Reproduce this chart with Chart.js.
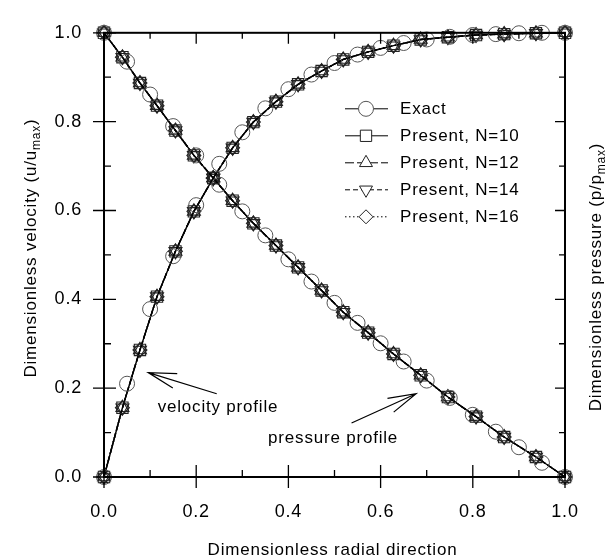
<!DOCTYPE html>
<html>
<head>
<meta charset="utf-8">
<script src="https://cdn.jsdelivr.net/npm/chart.js@4.4.0/dist/chart.umd.min.js"></script>
<style>
html,body{margin:0;padding:0;background:#fff;}
#c{display:block;}
</style>
</head>
<body>
<canvas id="c" width="608" height="560"></canvas>
<script>
// 速度・圧力分布（厳密解 vs 本手法）— 図から読み取った値

const xExact=[0,0.05,0.10,0.15,0.20,0.25,0.30,0.35,0.40,0.45,0.50,0.55,0.60,0.65,0.70,0.75,0.80,0.85,0.90,0.95,1.00];
const uExact=[0,0.21,0.378,0.497,0.612,0.705,0.776,0.83,0.873,0.906,0.932,0.951,0.966,0.977,0.985,0.991,0.995,0.997,0.999,1.0,1.0];
const pExact=[1.0,0.935,0.861,0.79,0.724,0.658,0.598,0.544,0.49,0.44,0.392,0.347,0.301,0.26,0.217,0.178,0.14,0.102,0.067,0.032,0.0];

const xPresent=[0,0.04,0.078,0.115,0.155,0.195,0.237,0.279,0.324,0.373,0.421,0.472,0.519,0.573,0.628,0.687,0.746,0.807,0.868,0.937,1.0];
const uPresent=[0,0.156,0.286,0.406,0.508,0.598,0.673,0.741,0.799,0.845,0.884,0.914,0.94,0.957,0.971,0.985,0.99,0.995,0.997,0.999,1.0];
const pPresent=[1.0,0.945,0.887,0.836,0.78,0.724,0.673,0.622,0.571,0.521,0.472,0.42,0.371,0.325,0.277,0.229,0.18,0.136,0.09,0.045,0.0];

const majorTicks=[0,0.2,0.4,0.6,0.8,1.0];
const minorTicks=[0.1,0.3,0.5,0.7,0.9];

const seriesLabels=['Exact','Present, N=10','Present, N=12','Present, N=14','Present, N=16'];
const seriesMarkers=['circle','rect','triangle','triangle','rectRot'];
const seriesRotation=[0,0,0,180,0];
const seriesRadius=[7.5,8,7.5,7.5,7];
const seriesDash=[[],[],[9,3],[5,3],[1.5,2.5]];

const FONT='"Liberation Sans", Arial, Helvetica, sans-serif';

// ── データセット ──
function pts(xs,ys){ return xs.map((x,i)=>({x:x,y:ys[i]})); }

const datasets=[];
seriesLabels.forEach((label,i)=>{
  const isExact=i===0;
  const curves=isExact?[uExact,pExact]:[uPresent,pPresent];
  const xs=isExact?xExact:xPresent;
  curves.forEach(ys=>{
    datasets.push({
      label:label,
      data:pts(xs,ys),
      showLine:!isExact,
      borderColor:'#000',
      borderWidth:1.4,
      borderDash:seriesDash[i],
      pointStyle:seriesMarkers[i],
      rotation:seriesRotation[i],
      pointRadius:seriesRadius[i],
      pointBorderWidth:isExact?1:1.1,
      pointBorderColor:isExact?'#555':'#222',
      pointBackgroundColor:'rgba(0,0,0,0)',
      tension:0,
      clip:false
    });
  });
});

// ── 枠・目盛り・タイトル・凡例・注記 ──
function drawSubText(ctx,parts,cx,cy){
  // parts: [text, isSub]
  const big='17px '+FONT, small='12px '+FONT;
  let w=0;
  parts.forEach(p=>{ ctx.font=p[1]?small:big; w+=ctx.measureText(p[0]).width; });
  let x=cx-w/2;
  ctx.textAlign='left'; ctx.textBaseline='alphabetic';
  parts.forEach(p=>{
    ctx.font=p[1]?small:big;
    ctx.fillText(p[0],x,cy+(p[1]?4:0));
    x+=ctx.measureText(p[0]).width;
  });
}

function drawArrow(ctx,x0,y0,x1,y1){
  const ang=Math.atan2(y0-y1,x0-x1), len=29, spread=Math.PI/12;
  ctx.beginPath();
  ctx.moveTo(x0,y0); ctx.lineTo(x1,y1);
  ctx.moveTo(x1+len*Math.cos(ang+spread),y1+len*Math.sin(ang+spread));
  ctx.lineTo(x1,y1);
  ctx.lineTo(x1+len*Math.cos(ang-spread),y1+len*Math.sin(ang-spread));
  ctx.stroke();
}

const annotations=[
  {text:'velocity profile', tail:[0.2445,0.1875], tip:[0.096,0.235], at:[0.1165,0.156]},
  {text:'pressure profile', tail:[0.537,0.1215], tip:[0.677,0.1875], at:[0.356,0.088]}
];

const framePlugin={
  id:'frame',
  beforeDraw(chart){ chart.ctx.letterSpacing='0.8px'; },
  afterDatasetsDraw(chart){
    const {ctx,chartArea:a,scales:{x,y,y1}}=chart;
    ctx.save();
    ctx.strokeStyle='#000';
    ctx.lineWidth=2;
    ctx.strokeRect(a.left,a.top,a.right-a.left,a.bottom-a.top);
    ctx.lineWidth=1.3;
    ctx.beginPath();
    majorTicks.forEach(v=>{
      const px=x.getPixelForValue(v), py=y.getPixelForValue(v), pr=y1.getPixelForValue(v);
      ctx.moveTo(px,a.bottom+11); ctx.lineTo(px,a.bottom-12);
      ctx.moveTo(px,a.top); ctx.lineTo(px,a.top+11);
      ctx.moveTo(a.left-11,py); ctx.lineTo(a.left+12,py);
      ctx.moveTo(a.right,pr); ctx.lineTo(a.right-10,pr);
    });
    minorTicks.forEach(v=>{
      const px=x.getPixelForValue(v), py=y.getPixelForValue(v), pr=y1.getPixelForValue(v);
      ctx.moveTo(px,a.bottom); ctx.lineTo(px,a.bottom-7);
      ctx.moveTo(px,a.top); ctx.lineTo(px,a.top+6);
      ctx.moveTo(a.left,py); ctx.lineTo(a.left+7,py);
      ctx.moveTo(a.right,pr); ctx.lineTo(a.right-6,pr);
    });
    ctx.stroke();
    ctx.restore();
  },
  afterDraw(chart){
    const {ctx,chartArea:a,scales:{x,y}}=chart;
    ctx.save();
    ctx.fillStyle='#000';
    ctx.strokeStyle='#000';
    ctx.letterSpacing='0.8px';

    // x軸タイトル
    drawSubText(ctx,[['Dimensionless radial direction',false]],(a.left+a.right)/2-2,555);

    // 左y軸タイトル
    ctx.save();
    ctx.translate(36,248); ctx.rotate(-Math.PI/2);
    drawSubText(ctx,[['Dimensionless velocity (u/u',false],['max',true],[')',false]],0,0);
    ctx.restore();

    // 右y軸タイトル
    ctx.save();
    ctx.translate(601,277); ctx.rotate(-Math.PI/2);
    drawSubText(ctx,[['Dimensionless pressure (p/p',false],['max',true],[')',false]],0,0);
    ctx.restore();

    // 注記
    ctx.lineWidth=1.2;
    ctx.font='17px '+FONT;
    ctx.textAlign='left'; ctx.textBaseline='middle';
    annotations.forEach(an=>{
      drawArrow(ctx,x.getPixelForValue(an.tail[0]),y.getPixelForValue(an.tail[1]),
                    x.getPixelForValue(an.tip[0]),y.getPixelForValue(an.tip[1]));
      ctx.fillText(an.text,x.getPixelForValue(an.at[0]),y.getPixelForValue(an.at[1]));
    });

    // 凡例
    const lx0=a.left+241, lx1=a.left+284, mx=a.left+262, tx=a.left+296;
    seriesLabels.forEach((label,i)=>{
      const ry=a.top+76+i*27;
      ctx.save();
      ctx.lineWidth=1;
      ctx.setLineDash(seriesDash[i]);
      ctx.beginPath(); ctx.moveTo(lx0,ry); ctx.lineTo(lx1,ry); ctx.stroke();
      ctx.restore();
      ctx.save();
      ctx.fillStyle='#fff';
      ctx.strokeStyle=i===0?'#555':'#222';
      ctx.lineWidth=1;
      Chart.helpers.drawPoint(ctx,{pointStyle:seriesMarkers[i],rotation:seriesRotation[i],radius:seriesRadius[i],borderWidth:1},mx,ry);
      ctx.restore();
      ctx.font='17px '+FONT;
      ctx.textAlign='left'; ctx.textBaseline='middle';
      ctx.fillText(label,tx,ry+1);
    });
    ctx.restore();
  }
};

const tickFont={family:FONT,size:18};

new Chart(document.getElementById('c').getContext('2d'),{
  type:'line',
  data:{datasets:datasets},
  plugins:[framePlugin],
  options:{
    responsive:false,
    animation:false,
    devicePixelRatio:1,
    layout:{padding:{top:22,left:0,right:0,bottom:0}},
    plugins:{legend:{display:false},tooltip:{enabled:false}},
    scales:{
      x:{
        type:'linear',position:'bottom',min:0,max:1,
        afterFit:s=>{s.height=83;},
        afterBuildTicks:s=>{s.ticks=majorTicks.map(v=>({value:v}));},
        grid:{display:false,drawTicks:false},
        border:{display:false},
        ticks:{padding:24,font:tickFont,color:'#000',maxRotation:0,autoSkip:false,callback:v=>v.toFixed(1)}
      },
      y:{
        type:'linear',position:'left',min:0,max:1,
        afterFit:s=>{s.width=104;},
        afterBuildTicks:s=>{s.ticks=majorTicks.map(v=>({value:v}));},
        grid:{display:false,drawTicks:false},
        border:{display:false},
        ticks:{padding:22,font:tickFont,color:'#000',autoSkip:false,callback:v=>v.toFixed(1)}
      },
      y1:{
        type:'linear',position:'right',min:0,max:1,
        afterFit:s=>{s.width=43;},
        grid:{display:false,drawTicks:false},
        border:{display:false},
        ticks:{display:false}
      }
    }
  }
});
</script>
</body>
</html>
